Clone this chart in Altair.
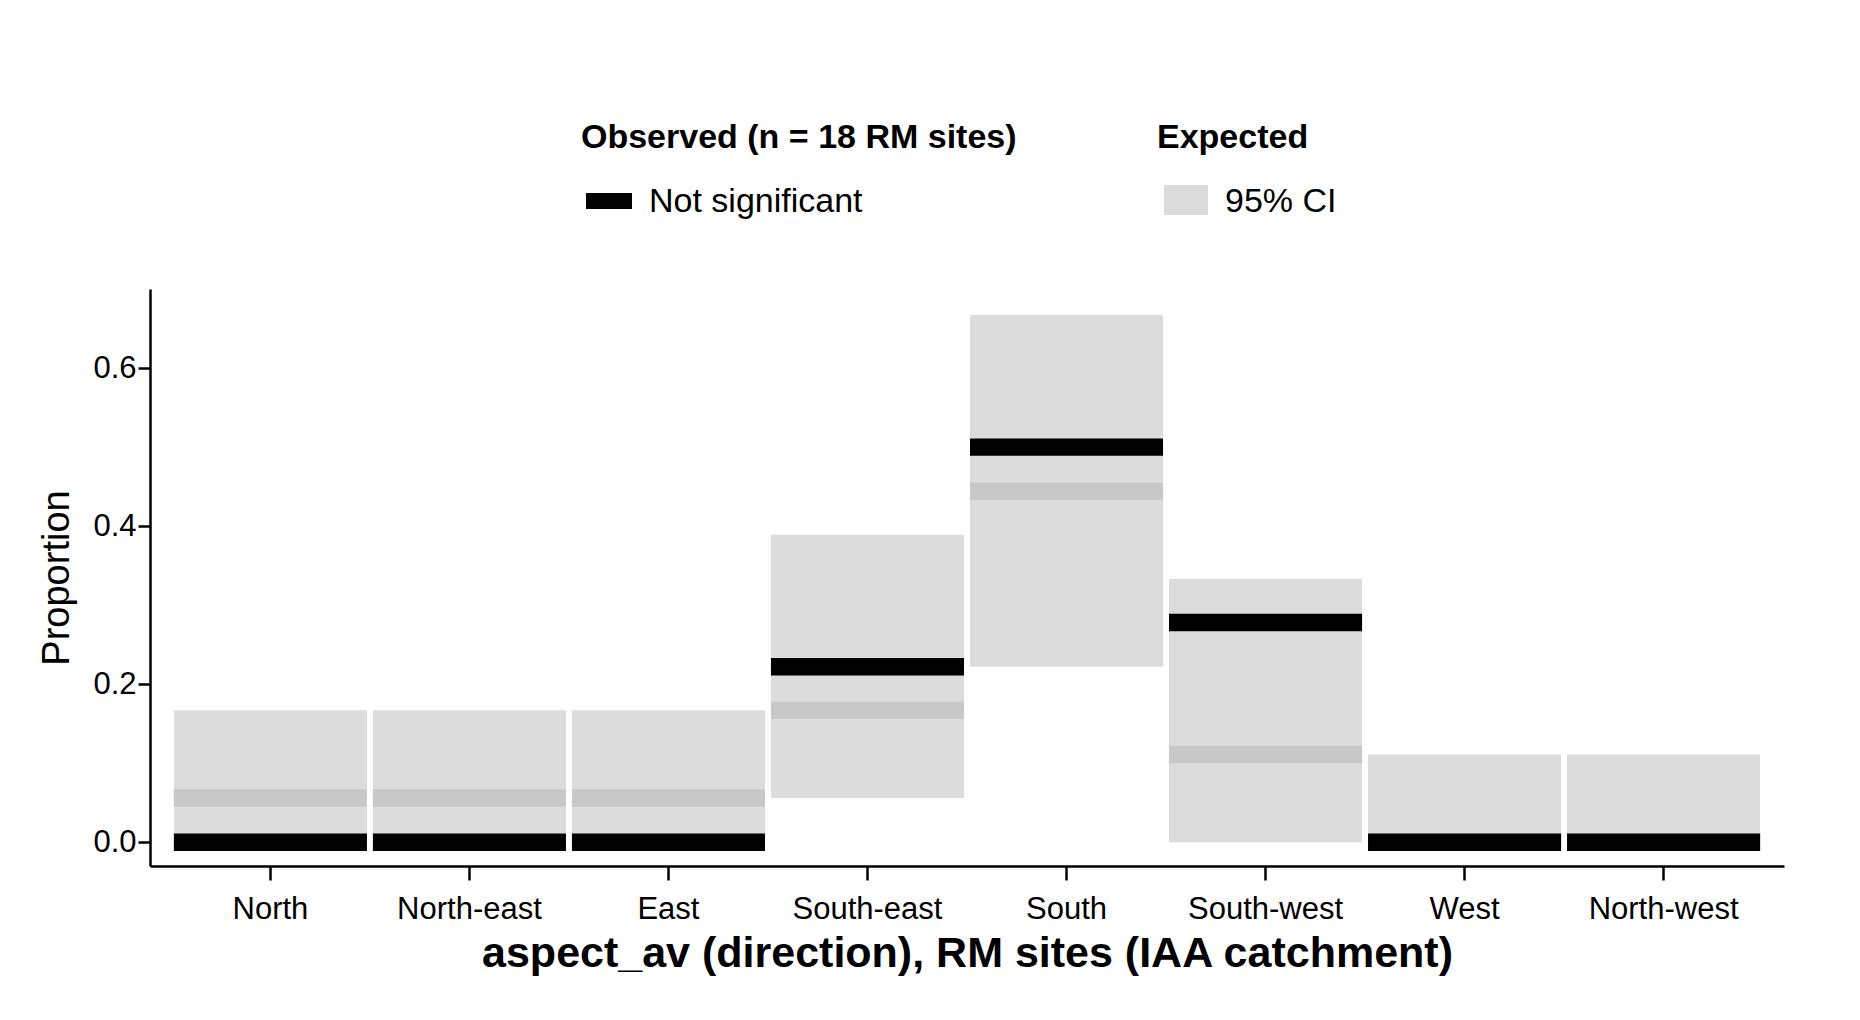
import altair as alt
import pandas as pd

directions = ["North", "North-east", "East", "South-east", "South", "South-west", "West", "North-west"]
ci_low = [0.0, 0.0, 0.0, 0.056, 0.222, 0.0, 0.0, 0.0]
ci_high = [0.167, 0.167, 0.167, 0.389, 0.667, 0.333, 0.111, 0.111]
expected = [0.056, 0.056, 0.056, 0.167, 0.444, 0.111, 0.0, 0.0]
observed = [0.0, 0.0, 0.0, 0.222, 0.5, 0.278, 0.0, 0.0]

df = pd.DataFrame({
    "direction": directions,
    "low": ci_low,
    "high": ci_high,
    "expected": expected,
    "observed": observed,
})

FONT = "Liberation Sans"
x = alt.X(
    "direction:N", sort=directions, scale=alt.Scale(paddingInner=0.03, paddingOuter=0.12),
    title="aspect_av (direction), RM sites (IAA catchment)",
    axis=alt.Axis(labelAngle=0, labelFontSize=31, labelColor="black", labelPadding=14,
                  titleFontSize=43, titleFontWeight="bold", titleColor="black", titlePadding=8,
                  tickSize=14, tickColor="black", tickWidth=2.5, domainColor="black", domainWidth=2.5),
)
yscale = alt.Scale(domain=[-0.03, 0.7], nice=False)
yaxis = alt.Axis(values=[0, 0.2, 0.4, 0.6], format=".1f", labelFontSize=31, labelColor="black",
                 titleFontSize=38, titleFontWeight="normal", titleColor="black", titlePadding=16,
                 tickSize=12, tickColor="black", tickWidth=2.5, domainColor="black", domainWidth=2.5,
                 grid=False)

base = alt.Chart(df)
ci = base.mark_rect(color="#dcdcdc").encode(
    x=x, y=alt.Y("low:Q", scale=yscale, axis=yaxis, title="Proportion"), y2="high:Q")
exp = base.mark_rect(color="#c8c8c8").transform_calculate(
    a="datum.expected - 0.011", b="datum.expected + 0.011"
).encode(x=x, y=alt.Y("a:Q", scale=yscale), y2="b:Q")
obs = base.mark_rect(color="black").transform_calculate(
    a="datum.observed - 0.011", b="datum.observed + 0.011"
).encode(x=x, y=alt.Y("a:Q", scale=yscale), y2="b:Q")

main = (ci + exp + obs).properties(width=1634, height=577)

legend_title = pd.DataFrame({"t": ["Observed (n = 18 RM sites)", "Expected"], "px": [431, 1007]})
legend_item = pd.DataFrame({"t": ["Not significant", "95% CI"], "px": [499, 1075]})
leg_base = alt.Chart(legend_title).mark_text(
    align="left", font=FONT, fontSize=34, fontWeight="bold", color="black"
).encode(x=alt.X("px:Q", scale=None), y=alt.value(20), text="t:N")
leg_text = alt.Chart(legend_item).mark_text(
    align="left", font=FONT, fontSize=34, color="black"
).encode(x=alt.X("px:Q", scale=None), y=alt.value(84), text="t:N")
sw_black = alt.Chart(pd.DataFrame({"a": [436], "b": [482]})).mark_rect(color="black").encode(
    x=alt.X("a:Q", scale=None), x2="b:Q", y=alt.value(75), y2=alt.value(91))
sw_grey = alt.Chart(pd.DataFrame({"a": [1014], "b": [1058]})).mark_rect(color="#dcdcdc").encode(
    x=alt.X("a:Q", scale=None), x2="b:Q", y=alt.value(67), y2=alt.value(97))
legend = (leg_base + leg_text + sw_black + sw_grey).properties(width=1634, height=120)

chart = alt.vconcat(legend, main, spacing=51).configure(
    font=FONT, padding={"left": 30, "top": 110, "right": 10, "bottom": 10},
    view=alt.ViewConfig(stroke=None))

chart.save("out.html", embed_options={"renderer": "svg", "actions": False})
